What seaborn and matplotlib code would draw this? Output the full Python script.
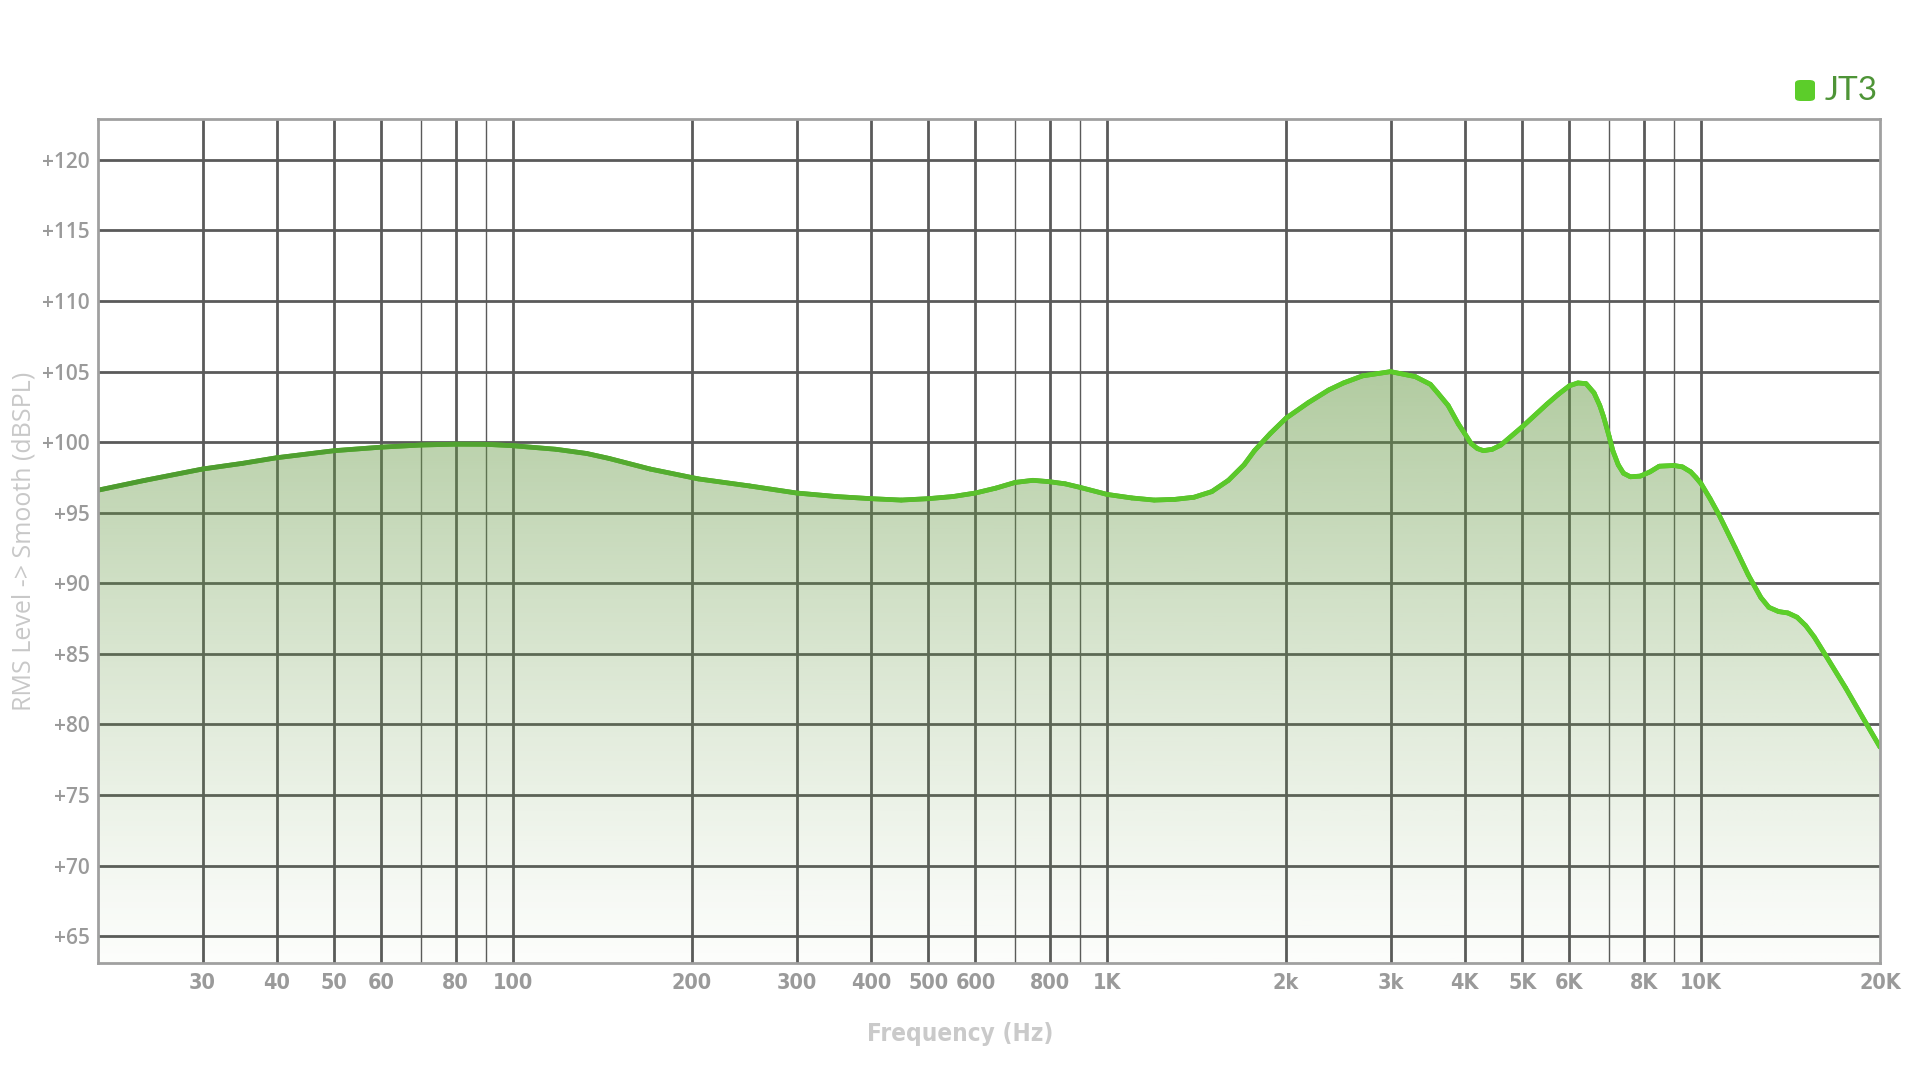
import numpy as np
import pandas as pd
import matplotlib
matplotlib.use("Agg")
import matplotlib.pyplot as plt
import seaborn as sns
from matplotlib import font_manager
from matplotlib.collections import LineCollection
from matplotlib.colors import LinearSegmentedColormap
from matplotlib.patches import FancyBboxPatch

# ---- data ----
freq_hz = [20, 24, 30, 35, 40, 50, 60, 70, 80, 90, 100, 118, 133, 145, 170, 205,
           250, 300, 350, 400, 450, 500, 550, 600, 650, 700, 750, 800, 850, 900,
           1000, 1100, 1200, 1300, 1400, 1500, 1600, 1700, 1770, 1880, 2000, 2180,
           2360, 2500, 2690, 3000, 3300, 3500, 3600, 3750, 3900, 4000, 4100, 4200,
           4300, 4450, 4600, 5000, 5500, 5750, 6000, 6200, 6400, 6600, 6750, 6850,
           7000, 7100, 7250, 7400, 7600, 7900, 8200, 8500, 9000, 9300, 9600, 9800,
           10000, 10350, 10700, 11400, 12000, 12600, 13000, 13500, 14000, 14500,
           15000, 15500, 16200, 17500, 18700, 20000]
spl_db = [96.6, 97.3, 98.1, 98.5, 98.9, 99.4, 99.65, 99.8, 99.86, 99.85, 99.75,
          99.5, 99.2, 98.85, 98.1, 97.4, 96.9, 96.4, 96.15, 96.0, 95.9, 96.0, 96.15,
          96.4, 96.75, 97.15, 97.3, 97.2, 97.05, 96.8, 96.3, 96.05, 95.9, 95.95,
          96.1, 96.5, 97.3, 98.4, 99.4, 100.6, 101.7, 102.8, 103.7, 104.2, 104.7,
          105.0, 104.65, 104.1, 103.5, 102.6, 101.3, 100.6, 99.9, 99.55,
          99.4, 99.5, 99.8, 101.1, 102.7, 103.4, 104.0, 104.2, 104.15, 103.5, 102.6,
          101.8, 100.4, 99.4, 98.4, 97.8, 97.55, 97.6, 97.9, 98.3, 98.35, 98.25,
          97.9, 97.5, 97.05, 96.0, 94.9, 92.55, 90.6, 89.0, 88.3, 88.0, 87.9, 87.6,
          87.0, 86.2, 84.9, 82.6, 80.5, 78.4]
series_name = "JT3"

major_grid_x = [30, 40, 50, 60, 80, 100, 200, 300, 400, 500, 600, 800, 1000,
                2000, 3000, 4000, 5000, 6000, 8000, 10000, 20000]
major_grid_labels = ["30", "40", "50", "60", "80", "100", "200", "300", "400",
                     "500", "600", "800", "1K", "2k", "3k", "4K", "5K", "6K",
                     "8K", "10K", "20K"]
minor_grid_x = [70, 90, 700, 900, 7000, 9000]
y_ticks = [65, 70, 75, 80, 85, 90, 95, 100, 105, 110, 115, 120]
y_tick_labels = ["+%d" % v for v in y_ticks]

df = pd.DataFrame({"freq": freq_hz, "spl": spl_db})

# ---- fonts ----
def find_condensed(bold):
    for f in font_manager.fontManager.ttflist:
        fn = f.fname.lower()
        nm = (f.name + " " + fn).lower()
        if ("narrow" in nm or "condensed" in nm) and "oblique" not in fn and "italic" not in fn:
            if ("bold" in fn) == bold:
                return f.fname
    return None

cond_bold = find_condensed(True) or find_condensed(False)
if cond_bold:
    narrow_prop = font_manager.FontProperties(fname=cond_bold)
else:
    narrow_prop = font_manager.FontProperties(family="DejaVu Sans", weight="bold")

# ---- figure ----
sns.set_theme(style="white")
plt.rcParams['font.family'] = ['Open Sans', 'DejaVu Sans']

fig = plt.figure(figsize=(19.2, 10.8), dpi=100)
ax = fig.add_axes([98 / 1920, 1 - 963 / 1080, (1880 - 98) / 1920, (963 - 119) / 1080])
ax.set_xscale("log")
ax.set_xlim(20, 20000)
ax.set_ylim(63.1, 122.9)

grid_col = "#5a5a5a"
for v in y_ticks:
    ax.axhline(v, color=grid_col, lw=2.0, zorder=1)
for v in major_grid_x[:-1]:
    ax.axvline(v, color=grid_col, lw=2.0, zorder=1)
for v in minor_grid_x:
    ax.axvline(v, color=grid_col, lw=1.0, zorder=1)

# gradient fill under curve
poly = ax.fill_between(df["freq"], df["spl"], 63.1, facecolor="none", edgecolor="none", zorder=2)
grad_top, grad_bot = 106.0, 63.1
n = 256
alphas = np.linspace(0.0, 1.0, n) ** 1.15
rgba = np.zeros((n, 1, 4))
rgba[:, 0, 0] = 0.40
rgba[:, 0, 1] = 0.60
rgba[:, 0, 2] = 0.27
rgba[:, 0, 3] = 0.50 * alphas + 0.02
img = ax.imshow(rgba, extent=[20, 20000, grad_bot, grad_top], origin="lower",
                aspect="auto", zorder=2, interpolation="bilinear")
img.set_clip_path(poly.get_paths()[0], transform=ax.transData)
ax.set_ylim(63.1, 122.9)
ax.set_xlim(20, 20000)

# line via seaborn, then gradient-coloured overlay
sns.lineplot(data=df, x="freq", y="spl", ax=ax, color="#57b02e", lw=3.4, zorder=3,
             legend=False)
pts = np.column_stack([np.array(freq_hz, float), np.array(spl_db, float)])
segs = np.stack([pts[:-1], pts[1:]], axis=1)
cmap = LinearSegmentedColormap.from_list("g", ["#4e9a30", "#52a530", "#5ac12c", "#5ccd2a", "#5ccf2a"])
pos = np.log10(np.sqrt(pts[:-1, 0] * pts[1:, 0]) / 20) / 3
lc = LineCollection(segs, colors=cmap(pos), linewidths=3.4, capstyle="round",
                    joinstyle="round", zorder=4)
ax.add_collection(lc)
ax.set_xlabel("")

# ticks
ax.set_xticks(major_grid_x)
ax.set_xticklabels(major_grid_labels)
ax.xaxis.set_minor_locator(matplotlib.ticker.NullLocator())
ax.set_yticks(y_ticks)
ax.set_yticklabels(y_tick_labels)
ax.tick_params(axis="x", length=0, pad=7, colors="#9a9a9a", labelsize=15)
ax.tick_params(axis="y", length=0, pad=6, colors="#9a9a9a", labelsize=15)
for t in ax.get_xticklabels():
    t.set_fontproperties(narrow_prop)
    t.set_fontsize(15.5)
for t in ax.get_yticklabels():
    t.set_fontweight("semibold")

for s in ax.spines.values():
    s.set_color("#a0a0a0")
    s.set_linewidth(2.0)
    s.set_zorder(5)

xl_prop = narrow_prop.copy()
xl_prop.set_size(17.5)
fig.text(0.5, 1 - 1034 / 1080, "Frequency (Hz)", color="#cacaca",
         fontproperties=xl_prop, ha="center", va="center")
ax.set_ylabel("RMS Level -> Smooth (dBSPL)", color="#c8c8c8", fontsize=18, labelpad=4)

# legend
fig.patches.append(FancyBboxPatch((1795 / 1920, 1 - 101 / 1080), 20 / 1920, 21 / 1080,
                                  boxstyle="round,pad=0,rounding_size=0.003",
                                  transform=fig.transFigure, facecolor="#5ccd2a",
                                  edgecolor="none"))
fig.text(1825 / 1920, 1 - 91 / 1080, series_name, color="#4e9437", fontsize=24,
         va="center", ha="left", family=["Lato", "DejaVu Sans"])

fig.savefig("out.png", dpi=100, facecolor="white")
